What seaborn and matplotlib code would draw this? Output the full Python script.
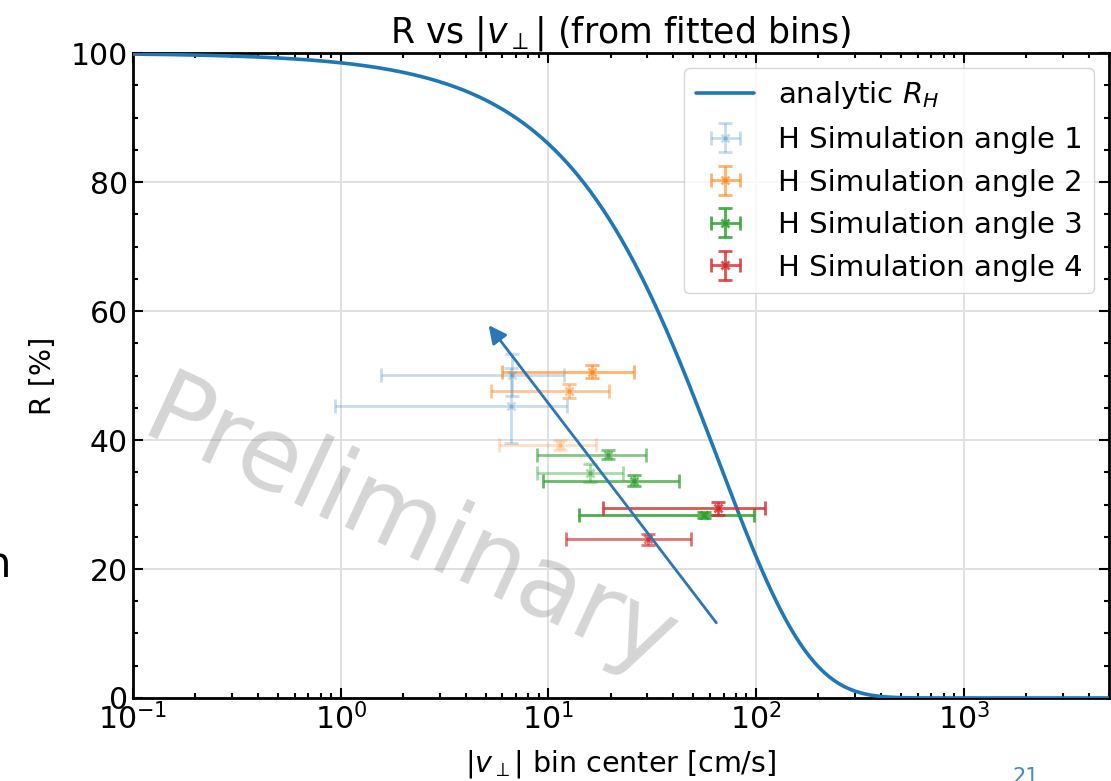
import numpy as np
import pandas as pd
import matplotlib
matplotlib.use("Agg")
import matplotlib.pyplot as plt
import seaborn as sns
from matplotlib.ticker import MultipleLocator, LogLocator, NullFormatter

# ---------------- data ----------------
V0_ANALYTIC = 66.0          # cm/s, decay constant of analytic R_H = 100*exp(-v/V0)
X_MIN, X_MAX = 0.1, 5000.0

series_labels = ["H Simulation angle 1", "H Simulation angle 2",
                 "H Simulation angle 3", "H Simulation angle 4"]

angle1_v    = [6.7, 6.6]
angle1_R    = [50.1, 45.3]
angle1_xlo  = [1.57, 0.94]
angle1_xhi  = [11.9, 12.3]
angle1_Rerr = [3.2, 5.8]

angle2_v    = [16.3, 12.6, 11.4]
angle2_R    = [50.6, 47.6, 39.2]
angle2_xlo  = [5.96, 5.28, 5.8]
angle2_xhi  = [26.0, 19.7, 17.0]
angle2_Rerr = [1.0, 1.1, 0.8]

angle3_v    = [56.3, 26.0, 19.4, 15.8]
angle3_R    = [28.4, 33.7, 37.7, 34.9]
angle3_xlo  = [14.0, 9.4, 8.78, 8.84]
angle3_xhi  = [97.8, 42.7, 29.6, 23.0]
angle3_Rerr = [0.5, 0.8, 0.7, 1.4]

angle4_v    = [65.3, 30.1]
angle4_R    = [29.4, 24.6]
angle4_xlo  = [18.3, 12.2]
angle4_xhi  = [111.0, 48.6]
angle4_Rerr = [1.0, 0.8]

# ---------------- styling ----------------
sns.set_theme(style="ticks")
plt.rcParams["font.family"] = ["DejaVu Sans"]
plt.rcParams["mathtext.fontset"] = "dejavusans"
for key in ["text.color", "axes.labelcolor", "xtick.color", "ytick.color"]:
    plt.rcParams[key] = "black"

colors = ["#1f77b4", "#ff7f0e", "#2ca02c", "#d62728"]
alphas = [[0.25, 0.25], [0.6, 0.45, 0.25], [0.85, 0.72, 0.58, 0.4], [0.8, 0.65]]

fig = plt.figure(figsize=(11.11, 7.81), dpi=100)
ax = fig.add_axes([0.1197, 0.1063, 0.8783, 0.8257])

# analytic curve
v_curve = np.logspace(np.log10(X_MIN), np.log10(X_MAX), 800)
df_curve = pd.DataFrame({"v": v_curve, "R": 100.0 * np.exp(-v_curve / V0_ANALYTIC)})
sns.lineplot(data=df_curve, x="v", y="R", ax=ax, color="#1f77b4", lw=2.6,
             label=r"analytic $R_H$", zorder=3)

all_series = [
    (angle1_v, angle1_R, angle1_xlo, angle1_xhi, angle1_Rerr),
    (angle2_v, angle2_R, angle2_xlo, angle2_xhi, angle2_Rerr),
    (angle3_v, angle3_R, angle3_xlo, angle3_xhi, angle3_Rerr),
    (angle4_v, angle4_R, angle4_xlo, angle4_xhi, angle4_Rerr),
]
for k, (v, R, xlo, xhi, rerr) in enumerate(all_series):
    for i in range(len(v)):
        ax.errorbar([v[i]], [R[i]],
                    xerr=[[v[i] - xlo[i]], [xhi[i] - v[i]]], yerr=[rerr[i]],
                    fmt="x", color=colors[k], alpha=alphas[k][i], ms=6, mew=2,
                    elinewidth=2, capsize=5, capthick=2, zorder=4,
                    label=series_labels[k] if i == 0 else None)

ax.set_xscale("log")
ax.set_xlim(X_MIN, X_MAX)
ax.set_ylim(0, 100)
ax.yaxis.set_major_locator(MultipleLocator(20))
ax.yaxis.set_minor_locator(MultipleLocator(5))
ax.xaxis.set_major_locator(LogLocator(base=10, numticks=10))
ax.xaxis.set_minor_locator(LogLocator(base=10, subs=np.arange(2, 10), numticks=20))
ax.xaxis.set_minor_formatter(NullFormatter())

ax.grid(True, which="major", color="#e0e0e0", lw=1.4)
ax.set_axisbelow(True)
ax.tick_params(which="both", direction="in", top=True, right=True, labelsize=21.5,
               width=1.5, colors="black")
ax.tick_params(which="major", length=7)
ax.tick_params(which="minor", length=3.5)
for s in ax.spines.values():
    s.set_linewidth(2)
    s.set_color("black")

ax.set_title(r"R vs $|v_\perp|$ (from fitted bins)", fontsize=25, pad=7, color="black")
ax.set_xlabel(r"$|v_\perp|$ bin center [cm/s]", fontsize=20.5, labelpad=9)
ax.set_ylabel("R [%]", fontsize=20.5, labelpad=10)

leg = ax.legend(loc="upper right", fontsize=21, frameon=True, fancybox=True,
                framealpha=0.8, edgecolor="#cccccc", handlelength=2.0)
for t in leg.get_texts():
    t.set_color("black")

# watermark
ax.text(0.368, 0.321, "Preliminary", transform=fig.transFigure, rotation=-25,
        rotation_mode="anchor", ha="center", va="center", fontsize=73,
        color="gray", alpha=0.33, zorder=2)

# annotation arrow
ax.annotate("", xy=(0.4383, 0.5864), xytext=(0.6463, 0.1997),
            xycoords="figure fraction", textcoords="figure fraction",
            arrowprops=dict(arrowstyle="-|>,head_length=0.9,head_width=0.45",
                            color="#2e75b6", lw=2), zorder=6)

# slide fragments
fig.text(-0.014, 0.277, "n", fontsize=30, va="center", ha="left", color="black")
fig.text(0.911, 0.018, "21", fontsize=15, va="top", ha="left", color="#4a86c8")

fig.savefig("out.png", dpi=100)
